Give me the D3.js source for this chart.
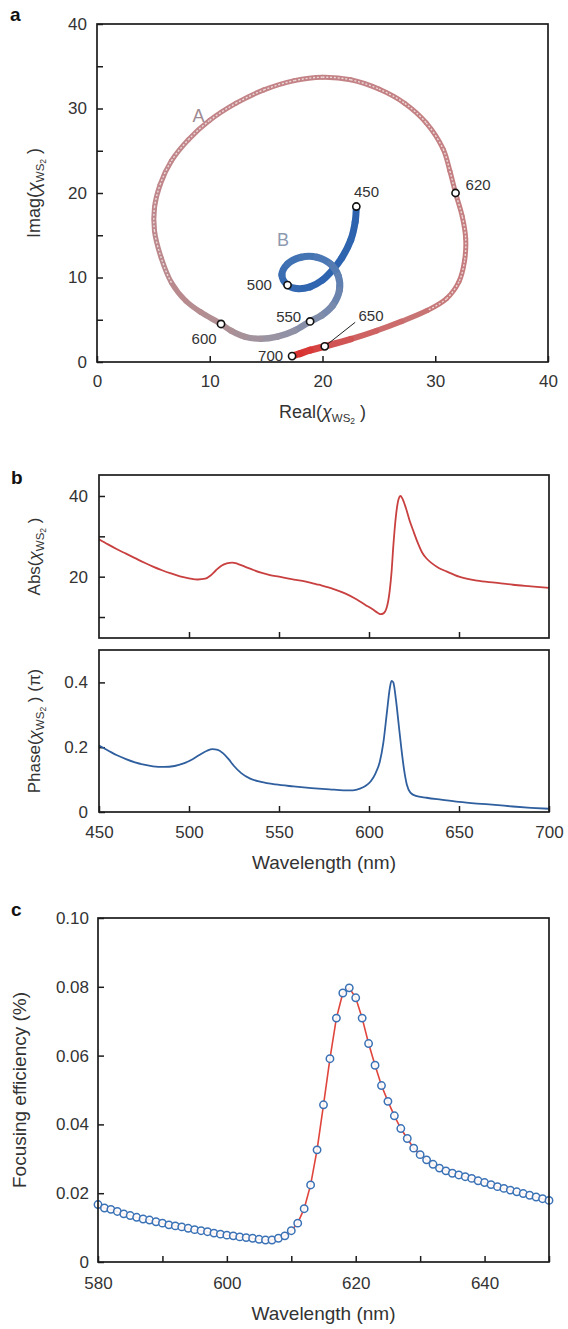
<!DOCTYPE html>
<html>
<head>
<meta charset="utf-8">
<script src="https://cdn.jsdelivr.net/npm/d3@7"></script>
<style>
  html, body { margin: 0; padding: 0; background: #fff; }
  svg { display: block; font-family: "Liberation Sans", Arial, Helvetica, sans-serif; }
</style>
</head>
<body>
<svg id="fig" width="568" height="1329"></svg>
<script>
// ---------- panel a: complex susceptibility trajectory (Real vs Imag) ----------
const aWl = [450,458,466,474,480,486,492,497,500,504,508,513,518,523,528,533,539,545,550,560,
             570,580,588,595,600,603,605,606.5,608,609,609.7,610.3,611,611.7,612.4,613.2,614,614.8,615.5,616.2,
             617,617.8,618.5,619.2,619.6,620,620.7,621.5,623,625,627,630,634,638,644,650,660,675,700];
const aRe = [23.0,22.9,22.5,21.7,20.9,20.0,18.9,17.7,16.9,16.4,16.9,18.1,19.5,20.7,21.4,21.5,20.9,19.9,18.9,17.5,
             16.0,14.5,13.1,11.9,11.0,9.2,7.9,6.6,5.7,5.1,5.1,5.6,6.6,8.1,10.0,12.3,14.8,17.5,20.0,22.5,
             25.0,27.3,29.2,30.7,31.3,31.8,32.4,32.7,32.6,32.1,31.0,29.3,27.0,24.8,22.5,20.2,18.9,18.0,17.3];
const aIm = [18.4,16.6,14.4,12.3,10.9,9.7,8.9,8.7,9.1,10.3,11.6,12.4,12.4,11.6,10.2,8.5,6.7,5.5,4.8,3.7,
             3.0,2.75,3.0,3.7,4.5,5.9,7.2,9.4,12.3,15.5,18.3,21.0,23.8,26.3,28.6,30.6,32.2,33.3,33.7,33.4,
             32.3,30.6,28.3,25.2,22.6,20.0,17.2,14.6,12.0,9.5,7.5,6.1,4.8,3.7,2.7,1.85,1.4,1.0,0.7];
const aMarkWl = [450, 500, 550, 600, 620, 650, 700];
const aTicks = [0, 10, 20, 30, 40];

// ---------- panel b: amplitude and phase vs wavelength ----------
const absWl  = [450,455,460,465,470,475,480,485,490,495,500,505,509,512,515,518,521,524,527,531,
                535,540,545,550,557,565,572,580,587,593,598,602,605,606.5,608,610,611.5,612.5,613.5,614.5,
                615.5,616.5,617.5,618.5,620.5,622.5,624.5,627,629.5,632,635,639,643,650,660,670,680,690,700];
const absVal = [29.3,28.0,26.8,25.7,24.6,23.5,22.5,21.6,20.8,20.1,19.6,19.3,19.5,20.3,21.6,22.7,23.3,23.5,23.2,22.5,
                21.8,21.0,20.4,20.0,19.4,18.8,18.0,17.0,15.8,14.4,13.0,11.9,11.0,10.7,10.9,12.6,16.5,21.0,27.5,33.0,
                37.0,39.3,40.0,39.4,37.0,34.0,31.5,28.5,26.0,24.5,23.3,22.1,21.3,20.0,19.0,18.5,18.0,17.6,17.2];
const phaseWl  = [450,455,460,465,470,475,480,486,492,497,502,506,510,513,516,519,522,525,529,534,
                  540,548,558,568,578,586,591,595,598,601,603.5,606,608,610,611.5,612.5,613.5,615,616.5,618,
                  619.5,621,623,626,632,640,650,660,670,680,690,700];
const phaseVal = [0.205,0.19,0.175,0.163,0.153,0.146,0.141,0.139,0.142,0.15,0.163,0.177,0.189,0.194,0.192,0.181,0.163,0.142,0.12,0.103,
                  0.093,0.085,0.079,0.074,0.07,0.067,0.067,0.072,0.08,0.095,0.118,0.155,0.215,0.31,0.38,0.405,0.40,0.345,0.27,0.195,
                  0.13,0.085,0.06,0.05,0.044,0.038,0.031,0.026,0.022,0.017,0.013,0.01];
const absTicks = [10, 20, 30, 40];
const phaseTicks = [0, 0.2, 0.4];
const bWlTicks = [450, 500, 550, 600, 650, 700];

// ---------- panel c: focusing efficiency ----------
const effWl = [580,581,582,583,584,585,586,587,588,589,590,591,592,593,594,595,596,597,598,599,
               600,601,602,603,604,605,606,607,608,609,610,611,612,613,614,615,616,617,618,619,
               620,621,622,623,624,625,626,627,628,629,630,631,632,633,634,635,636,637,638,639,
               640,641,642,643,644,645,646,647,648,649,650];
const effVal = [0.0167,0.0157,0.0153,0.0147,0.0140,0.0135,0.0130,0.0125,0.0122,0.0117,0.0113,0.0108,0.0105,0.0102,0.0098,0.0094,0.0091,0.0088,0.0084,0.0081,
                0.0078,0.0076,0.0073,0.0071,0.0069,0.0066,0.0064,0.0064,0.0069,0.0076,0.0091,0.0113,0.0155,0.0224,0.0326,0.0457,0.0591,0.0709,0.0782,0.0797,
                0.0768,0.0709,0.0635,0.0572,0.0513,0.0467,0.0425,0.0388,0.0359,0.0331,0.0312,0.0297,0.0284,0.0273,0.0265,0.0258,0.0253,0.0248,0.0243,0.0236,
                0.0231,0.0225,0.0219,0.0214,0.0209,0.0204,0.0199,0.0194,0.0189,0.0184,0.0179];
const cWlTicks = [580, 590, 600, 610, 620, 630, 640, 650];
const cEffTicks = [0, 0.02, 0.04, 0.06, 0.08, 0.10];

// ---------- shared styling ----------
const INK = "#1c1c1c";
const TXT = "#333";
const TICK_FS = 17;
const TITLE_FS = 18;
const svg = d3.select("#fig");

function styleAxis(g) {
  g.select(".domain").remove();
  g.selectAll(".tick line").attr("stroke", INK).attr("stroke-width", 1.5);
  g.selectAll(".tick text").attr("fill", TXT).attr("font-size", TICK_FS).attr("font-family", null);
}

function frame(x0, y0, x1, y1) {
  svg.append("rect").attr("x", x0).attr("y", y0).attr("width", x1 - x0).attr("height", y1 - y0)
    .attr("fill", "none").attr("stroke", INK).attr("stroke-width", 1.7);
}

// title with chi and a WS2 subscript
function chiLabel(sel, pre, post) {
  sel.append("tspan").text(pre + "(");
  sel.append("tspan").attr("font-style", "italic").text("χ");
  sel.append("tspan").attr("font-size", 11.5).attr("dy", 4).text("WS");
  sel.append("tspan").attr("font-size", 8.5).attr("dy", 2).text("2");
  sel.append("tspan").attr("dy", -6).text(" )" + (post || ""));
}

function yTitle(x, y, size, fn) {
  const t = svg.append("text").attr("transform", `translate(${x},${y}) rotate(-90)`)
    .attr("text-anchor", "middle").attr("font-size", size).attr("fill", TXT);
  fn(t);
  return t;
}

function panelLetter(x, y, s) {
  svg.append("text").attr("x", x).attr("y", y).attr("font-size", 19).attr("font-weight", "bold")
    .attr("fill", "#111").text(s);
}

// =========================== panel a ===========================
const aL = 97, aR = 548, aT = 24, aB = 362;
const ax = d3.scaleLinear().domain([0, 40]).range([aL, aR]);
const ay = d3.scaleLinear().domain([0, 40]).range([aB, aT]);

svg.append("g").attr("transform", `translate(0,${aB})`)
  .call(d3.axisBottom(ax).tickValues(aTicks).tickSize(-6).tickPadding(13))
  .call(styleAxis);
svg.append("g").attr("transform", `translate(${aL},0)`)
  .call(d3.axisLeft(ay).tickValues(d3.range(0, 41, 5)).tickSize(-6).tickPadding(10)
    .tickFormat(d => d % 10 === 0 ? d : ""))
  .call(styleAxis);
frame(aL, aT, aR, aB);

// trajectory drawn as consecutive smooth segments coloured by wavelength
const aPts = aWl.map((w, i) => ({ w, re: aRe[i], im: aIm[i] }));
const aLine = d3.line().x(d => ax(d.re)).y(d => ay(d.im)).curve(d3.curveCatmullRom.alpha(0.5));
const fullPath = aLine(aPts);
const cmds = fullPath.split("C").slice(1);
const bandColor = d3.scaleLinear()
  .domain([450, 495, 520, 545, 575, 600, 612, 630, 645, 660, 700])
  .range(["#2c62ad", "#3066b0", "#4a77b4", "#7d8cab", "#9a94a2", "#ae8f93", "#c28589", "#c77878", "#d05858", "#d83a38", "#d8302c"]);
const bandWidth = d3.scaleLinear()
  .domain([450, 545, 560, 600, 606, 612, 628, 640, 650, 700])
  .range([7, 7, 6.5, 6, 5.2, 5, 5, 5.8, 7, 7]).clamp(true);

const traj = svg.append("g");
cmds.forEach((c, i) => {
  const p = aPts[i];
  const wm = (aPts[i].w + aPts[i + 1].w) / 2;
  traj.append("path")
    .attr("d", `M${ax(p.re)},${ay(p.im)}C${c}`)
    .attr("fill", "none")
    .attr("stroke", bandColor(wm))
    .attr("stroke-width", bandWidth(wm))
    .attr("stroke-linecap", "round");
});
// hollow marker look where the trajectory moves fast
cmds.forEach((c, i) => {
  const wm = (aPts[i].w + aPts[i + 1].w) / 2;
  if (wm < 607 || wm > 630) return;
  const p = aPts[i];
  traj.append("path")
    .attr("d", `M${ax(p.re)},${ay(p.im)}C${c}`)
    .attr("fill", "none")
    .attr("stroke", "#fff")
    .attr("stroke-opacity", 0.7)
    .attr("stroke-width", 1.4)
    .attr("stroke-dasharray", "2 1.8");
});

// leader line for the 650 nm label
const p650 = aPts[aWl.indexOf(650)];
svg.append("line")
  .attr("x1", ax(p650.re)).attr("y1", ay(p650.im))
  .attr("x2", ax(22.9)).attr("y2", ay(4.7))
  .attr("stroke", "#222").attr("stroke-width", 1);

// wavelength markers
const marks = aMarkWl.map(w => aPts[aWl.indexOf(w)]);
svg.append("g").selectAll("circle").data(marks).join("circle")
  .attr("cx", d => ax(d.re)).attr("cy", d => ay(d.im)).attr("r", 3.6)
  .attr("fill", "#fff").attr("stroke", "#111").attr("stroke-width", 1.6);

// marker labels (placed in data units)
const aMarkLabelPos = [[23.9, 20.2], [14.4, 9.1], [17.0, 5.4], [9.5, 2.8], [33.8, 21.0], [24.3, 5.5], [15.4, 0.7]];
svg.append("g").selectAll("text").data(aMarkWl).join("text")
  .attr("x", (d, i) => ax(aMarkLabelPos[i][0]))
  .attr("y", (d, i) => ay(aMarkLabelPos[i][1]))
  .attr("dy", "0.35em")
  .attr("text-anchor", "middle")
  .attr("font-size", 15).attr("fill", TXT)
  .text(d => d);

svg.append("text").attr("x", ax(9.0)).attr("y", ay(29.1)).attr("dy", "0.35em")
  .attr("text-anchor", "middle").attr("font-size", 18).attr("fill", "#a08a92").text("A");
svg.append("text").attr("x", ax(16.5)).attr("y", ay(14.5)).attr("dy", "0.35em")
  .attr("text-anchor", "middle").attr("font-size", 18).attr("fill", "#8e9ab0").text("B");

chiLabel(svg.append("text").attr("x", (aL + aR) / 2).attr("y", 418).attr("text-anchor", "middle")
  .attr("font-size", TITLE_FS).attr("fill", TXT), "Real");
yTitle(40, (aT + aB) / 2, TITLE_FS, t => chiLabel(t, "Imag"));
panelLetter(10, 21, "a");

// =========================== panel b ===========================
const bL = 99, bR = 549;
const absT = 475, absB = 638, phT = 650, phB = 812;
const bx = d3.scaleLinear().domain([450, 700]).range([bL, bR]);
const byAbs = d3.scaleLinear().domain([4.8, 45.2]).range([absB, absT]);
const byPh = d3.scaleLinear().domain([0, 0.5]).range([phB, phT]);

svg.append("g").attr("transform", `translate(${bL},0)`)
  .call(d3.axisLeft(byAbs).tickValues(absTicks).tickSize(-6).tickPadding(11)
    .tickFormat(d => (d === 20 || d === 40) ? d : ""))
  .call(styleAxis);
svg.append("g").attr("transform", `translate(0,${absB})`)
  .call(d3.axisBottom(bx).tickValues(bWlTicks.slice(1, -1)).tickSize(-6).tickFormat(""))
  .call(styleAxis);
svg.append("g").attr("transform", `translate(${bL},0)`)
  .call(d3.axisLeft(byPh).tickValues(phaseTicks).tickSize(-6).tickPadding(11)
    .tickFormat(d => d === 0 ? "0" : d.toFixed(1)))
  .call(styleAxis);
svg.append("g").attr("transform", `translate(0,${phB})`)
  .call(d3.axisBottom(bx).tickValues(bWlTicks).tickSize(-6).tickPadding(14))
  .call(styleAxis);

svg.append("path")
  .attr("d", d3.line().x((d, i) => bx(absWl[i])).y(d => byAbs(d)).curve(d3.curveMonotoneX)(absVal))
  .attr("fill", "none").attr("stroke", "#c8403f").attr("stroke-width", 1.8);
svg.append("path")
  .attr("d", d3.line().x((d, i) => bx(phaseWl[i])).y(d => byPh(d)).curve(d3.curveMonotoneX)(phaseVal))
  .attr("fill", "none").attr("stroke", "#2f5f9e").attr("stroke-width", 1.8);

frame(bL, absT, bR, absB);
frame(bL, phT, bR, phB);

yTitle(40, (absT + absB) / 2, 17, t => chiLabel(t, "Abs"));
yTitle(40, (phT + phB) / 2, 17, t => chiLabel(t, "Phase", " (π)"));
svg.append("text").attr("x", (bL + bR) / 2).attr("y", 869).attr("text-anchor", "middle")
  .attr("font-size", 19).attr("fill", TXT).text("Wavelength (nm)");
panelLetter(11, 484, "b");

// =========================== panel c ===========================
const cL = 98, cR = 549, cT = 918, cB = 1262;
const cx = d3.scaleLinear().domain([580, 650]).range([cL, cR]);
const cy = d3.scaleLinear().domain([0, 0.10]).range([cB, cT]);

svg.append("g").attr("transform", `translate(0,${cB})`)
  .call(d3.axisBottom(cx).tickValues(cWlTicks).tickSize(-6).tickPadding(15)
    .tickFormat(d => d % 20 === 0 ? d : ""))
  .call(styleAxis);
svg.append("g").attr("transform", `translate(${cL},0)`)
  .call(d3.axisLeft(cy).tickValues(cEffTicks).tickSize(-6).tickPadding(9)
    .tickFormat(d => d === 0 ? "0" : d.toFixed(2)))
  .call(styleAxis);

svg.append("path")
  .attr("d", d3.line().x((d, i) => cx(effWl[i])).y(d => cy(d))(effVal))
  .attr("fill", "none").attr("stroke", "#e0453c").attr("stroke-width", 1.6);
svg.append("g").selectAll("circle").data(effVal).join("circle")
  .attr("cx", (d, i) => cx(effWl[i])).attr("cy", d => cy(d)).attr("r", 3.7)
  .attr("fill", "#fff").attr("fill-opacity", 0.9)
  .attr("stroke", "#3b72b6").attr("stroke-width", 1.5);

frame(cL, cT, cR, cB);

yTitle(26, (cT + cB) / 2, 19, t => t.text("Focusing efficiency (%)"));
svg.append("text").attr("x", (cL + cR) / 2).attr("y", 1320).attr("text-anchor", "middle")
  .attr("font-size", 19).attr("fill", TXT).text("Wavelength (nm)");
panelLetter(11, 916, "c");
</script>
</body>
</html>
